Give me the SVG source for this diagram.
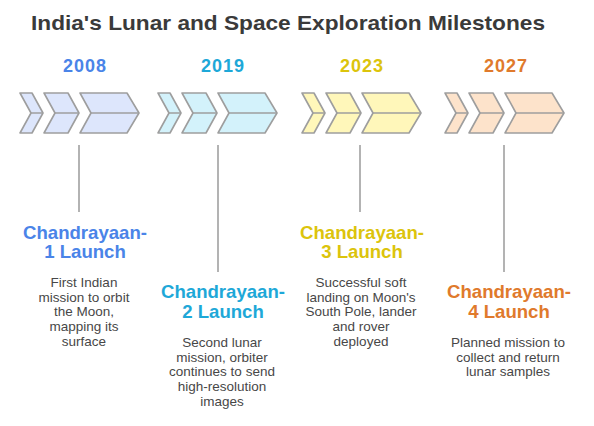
<svg xmlns="http://www.w3.org/2000/svg" width="594" height="426" viewBox="0 0 594 426">
<defs>
<style>
.bg{fill:#ffffff}
.title{font-family:"Liberation Sans",Arial,sans-serif;font-weight:bold;font-size:21px;fill:#3a3a3a;text-anchor:middle}
.year{font-family:"Liberation Sans",Arial,sans-serif;font-weight:bold;font-size:18px;text-anchor:middle;letter-spacing:1px}
.head{font-family:"Liberation Sans",Arial,sans-serif;font-weight:bold;font-size:18.6px;text-anchor:middle}
.desc{font-family:"Liberation Sans",Arial,sans-serif;font-size:13.5px;fill:#474747;text-anchor:middle}
.chev{stroke:#9e9e9e;stroke-width:1.6;stroke-linejoin:round}
.mid{stroke:#9e9e9e;stroke-width:1.4;fill:none}
.conn{stroke:#9a9a9a;stroke-width:1.5;fill:none}
.blue{fill:#dde6fc}
.cyan{fill:#d3f2fb}
.yellow{fill:#fff7ba}
.orange{fill:#fde3cb}
.tblue{fill:#4a84e8}
.tcyan{fill:#1ea8d8}
.tyellow{fill:#dcc40c}
.torange{fill:#e07a2c}
</style>
<g id="chevrons">
<path d="M0,0 H12 L23,20 L12,40 H0 L11,20 Z"/>
<path d="M24,0 H48 L59,20 L48,40 H24 L35,20 Z"/>
<path d="M60,0 H107 L119,20 L107,40 H60 L71,20 Z"/>
</g>
<g id="mids">
<path d="M11,20 H23 M35,20 H59 M71,20 H119"/>
</g>
</defs>
<rect class="bg" x="0" y="0" width="594" height="426"/>
<text class="title" x="288" y="30" textLength="514" lengthAdjust="spacingAndGlyphs">India's Lunar and Space Exploration Milestones</text>

<g id="connectors">
<line class="conn" x1="79" y1="145" x2="79" y2="212"/>
<line class="conn" x1="218" y1="145" x2="218" y2="272"/>
<line class="conn" x1="360" y1="145" x2="360" y2="212"/>
<line class="conn" x1="504" y1="145" x2="504" y2="272"/>
</g>

<g id="node-2008">
<text class="year tblue" x="85" y="72">2008</text>
<use href="#chevrons" class="chev blue" transform="translate(20,93)"/>
<use href="#mids" class="mid" transform="translate(20,93)"/>
<text class="head tblue" x="85" y="239">Chandrayaan-</text>
<text class="head tblue" x="85" y="258">1 Launch</text>
<text class="desc" x="84" y="287">First Indian</text>
<text class="desc" x="84" y="301.7">mission to orbit</text>
<text class="desc" x="84" y="316.4">the Moon,</text>
<text class="desc" x="84" y="331.1">mapping its</text>
<text class="desc" x="84" y="345.8">surface</text>
</g>

<g id="node-2019">
<text class="year tcyan" x="223" y="72">2019</text>
<use href="#chevrons" class="chev cyan" transform="translate(158,93)"/>
<use href="#mids" class="mid" transform="translate(158,93)"/>
<text class="head tcyan" x="223" y="298">Chandrayaan-</text>
<text class="head tcyan" x="223" y="318">2 Launch</text>
<text class="desc" x="222" y="347">Second lunar</text>
<text class="desc" x="222" y="361.7">mission, orbiter</text>
<text class="desc" x="222" y="376.4">continues to send</text>
<text class="desc" x="222" y="391.1">high-resolution</text>
<text class="desc" x="222" y="405.8">images</text>
</g>

<g id="node-2023">
<text class="year tyellow" x="362" y="72">2023</text>
<use href="#chevrons" class="chev yellow" transform="translate(302,93)"/>
<use href="#mids" class="mid" transform="translate(302,93)"/>
<text class="head tyellow" x="362" y="239">Chandrayaan-</text>
<text class="head tyellow" x="362" y="258">3 Launch</text>
<text class="desc" x="361" y="287">Successful soft</text>
<text class="desc" x="361" y="301.7">landing on Moon's</text>
<text class="desc" x="361" y="316.4">South Pole, lander</text>
<text class="desc" x="361" y="331.1">and rover</text>
<text class="desc" x="361" y="345.8">deployed</text>
</g>

<g id="node-2027">
<text class="year torange" x="506" y="72">2027</text>
<use href="#chevrons" class="chev orange" transform="translate(445,93)"/>
<use href="#mids" class="mid" transform="translate(445,93)"/>
<text class="head torange" x="509" y="298">Chandrayaan-</text>
<text class="head torange" x="509" y="318">4 Launch</text>
<text class="desc" x="508" y="347">Planned mission to</text>
<text class="desc" x="508" y="361.7">collect and return</text>
<text class="desc" x="508" y="376.4">lunar samples</text>
</g>
</svg>
